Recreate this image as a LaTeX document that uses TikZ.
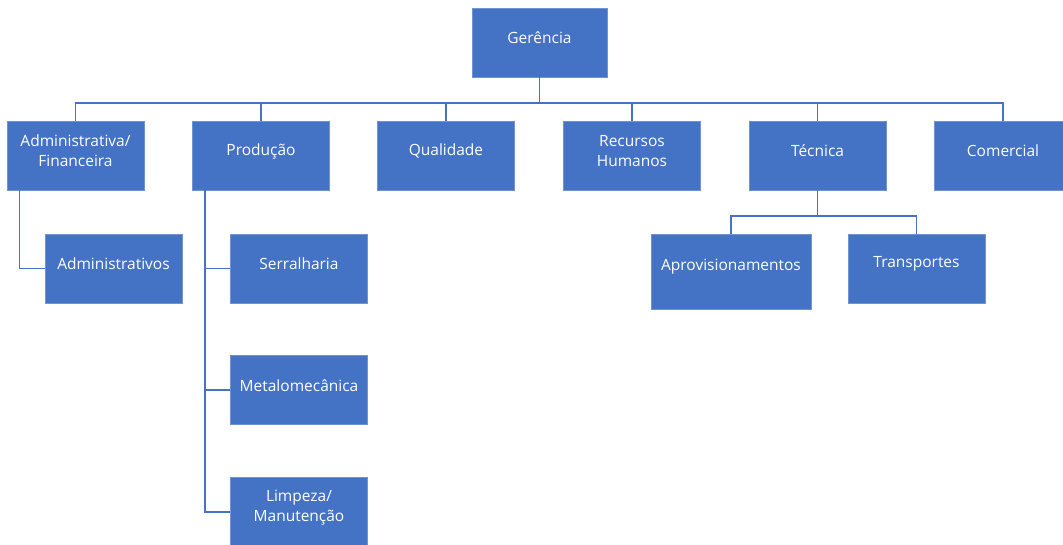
\documentclass[tikz,border=0pt]{standalone}
\usepackage{fontspec}
\setmainfont{Open Sans}
\definecolor{orgblue}{HTML}{4472C4}
\definecolor{orgedge}{HTML}{6F93D3}
\tikzset{
	box/.style={draw=orgedge, line width=0.8pt, fill=orgblue,
		minimum width=137pt, minimum height=69pt, inner sep=0pt,
		label={[boxtext]center:#1}},
	boxtext/.style={text=white, align=center, yshift=4.5pt,
		font=\fontsize{15.5}{20}\selectfont},
	link/.style={draw=orgblue, line width=1.6pt}
}
\begin{document}
\begin{tikzpicture}[x=1pt,y=-1pt]
		\useasboundingbox(0,0)rectangle(1063,545);
		\node[box=Gerência,minimum width=135pt](ger)at(539.5,42.5){};
		\node[box=Administrativa/\\Financeira](adm)at(75.5,155.5){};
		\node[box=Produção](prod)at(261,155.5){};
		\node[box=Qualidade](qual)at(446,155.5){};
		\node[box=Recursos\\Humanos](rh)at(632,155.5){};
		\node[box=Técnica](tec)at(817.5,155.5){};
		\node[box=Comercial](com)at(1003,155.5){};
		\node[box=Administrativos](admv)at(113.5,268.5){};
		\node[box=Serralharia](serr)at(299,268.5){};
		\node[box=Metalomecânica](metal)at(299,390){};
		\node[box=Limpeza/\\Manutenção](limp)at(299,512){};
		\node[box=Aprovisionamentos,minimum width=160pt,minimum height=75pt](aprov)at(731,271.5){};
		\node[box=Transportes](transp)at(916.5,268.5){};
		\coordinate(bus)at(539.5,103);
		\draw[link](ger.south)--(bus);
		\foreach \n in {adm,prod,qual,rh,tec,com}
			\draw[link](bus)-|(\n.north);
		\draw[link]([xshift=13pt]adm.south west)|-(admv.west);
		\foreach \n in {serr,metal,limp}
			\draw[link]([xshift=13pt]prod.south west)|-(\n.west);
		\coordinate(tecbus)at(817.5,216);
		\draw[link](tec.south)--(tecbus);
		\draw[link](tecbus)-|(aprov.north);
		\draw[link](tecbus)-|(transp.north);
	\end{tikzpicture}
\end{document}
